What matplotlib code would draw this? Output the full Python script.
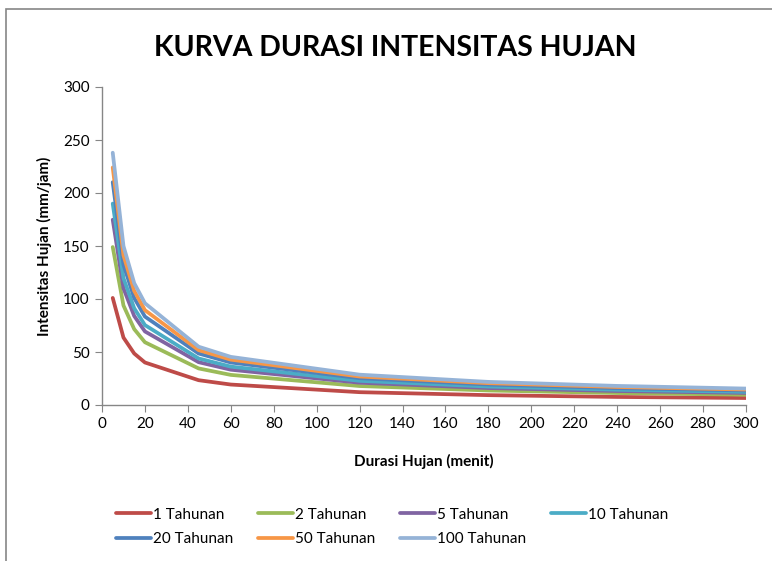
import matplotlib
matplotlib.use("Agg")
import matplotlib.pyplot as plt
from matplotlib.patches import Rectangle

# Durasi hujan (menit)
durasi = [5, 10, 15, 20, 45, 60, 120, 180, 240, 300]

# Intensitas hujan (mm/jam) per periode ulang
i_1 = [101.0, 63.6, 48.6, 40.1, 23.4, 19.3, 12.1, 9.3, 7.6, 6.6]
i_2 = [149.0, 93.9, 71.6, 59.2, 34.5, 28.4, 17.9, 13.7, 11.3, 9.7]
i_5 = [174.8, 110.1, 84.0, 69.4, 40.4, 33.3, 21.0, 16.0, 13.2, 11.4]
i_10 = [190.0, 119.7, 91.3, 75.4, 43.9, 36.2, 22.8, 17.4, 14.4, 12.4]
i_20 = [210.2, 132.4, 101.0, 83.4, 48.6, 40.1, 25.3, 19.3, 15.9, 13.7]
i_50 = [224.1, 141.2, 107.7, 89.5, 51.8, 42.8, 26.9, 20.6, 17.0, 14.6]
i_100 = [238.0, 150.0, 115.0, 96.0, 55.0, 45.4, 28.6, 21.8, 18.0, 15.5]

labels = ["1 Tahunan", "2 Tahunan", "5 Tahunan", "10 Tahunan",
          "20 Tahunan", "50 Tahunan", "100 Tahunan"]
warna = ["#BE4B48", "#9BBB59", "#8064A2", "#4BACC6",
         "#4F81BD", "#F79646", "#95B3D7"]
seri = [i_1, i_2, i_5, i_10, i_20, i_50, i_100]

plt.rcParams["font.family"] = ["Lato", "DejaVu Sans"]

fig = plt.figure(figsize=(7.72, 5.61), dpi=100)
fig.patch.set_facecolor("white")

# bingkai area chart (terpotong di kanan dan bawah)
fig.patches.append(Rectangle((6 / 772, -0.1), 1.2, 1.1 - 9 / 561,
                             transform=fig.transFigure, fill=False,
                             edgecolor="#868686", linewidth=1.2))

ax = fig.add_axes([102 / 772, 1 - 405 / 561, 644 / 772, 318 / 561])

handles = []
for y, c, lab in zip(seri, warna, labels):
    h, = ax.plot(durasi, y, color=c, linewidth=2.7, label=lab,
                 solid_capstyle="round", solid_joinstyle="round")
    handles.append(h)

ax.set_xlim(0, 300)
ax.set_ylim(0, 300)
ax.set_xticks(range(0, 301, 20))
ax.set_yticks(range(0, 301, 50))
for s in ["top", "right"]:
    ax.spines[s].set_visible(False)
for s in ["left", "bottom"]:
    ax.spines[s].set_color("#868686")
    ax.spines[s].set_linewidth(1.0)
ax.tick_params(direction="out", length=5, color="#868686", labelsize=11,
               labelcolor="black")
ax.tick_params(axis="y", pad=4)

ax.set_xlabel("Durasi Hujan (menit)", fontsize=11, fontweight="bold",
              labelpad=17)
ax.set_ylabel("Intensitas Hujan (mm/jam)", fontsize=11, fontweight="bold",
              labelpad=8)

fig.text(395 / 772, 1 - 48 / 561, "KURVA DURASI INTENSITAS HUJAN",
         ha="center", va="center", fontsize=20.5, fontweight="bold")

# urutan legenda baris per baris seperti Excel
urut = [0, 4, 1, 5, 2, 6, 3]
fig.legend([handles[i] for i in urut], [labels[i] for i in urut],
           ncol=4, loc="center", bbox_to_anchor=(392 / 772, 1 - 527 / 561),
           frameon=False, fontsize=11, handlelength=2.3,
           handletextpad=0.15, columnspacing=1.6, labelspacing=0.7)

fig.savefig("out.png", dpi=100)
